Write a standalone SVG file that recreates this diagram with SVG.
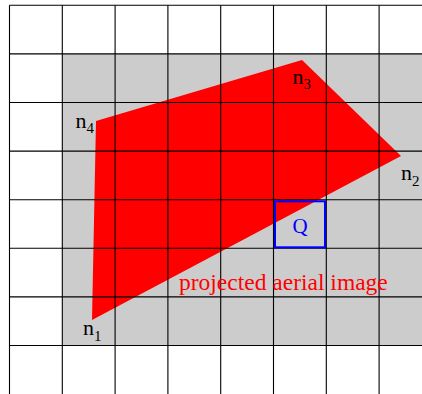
<svg xmlns="http://www.w3.org/2000/svg" width="422" height="394" viewBox="0 0 422 394">
<style>
.grid line{stroke:#000;stroke-width:1.1}
.lbl{font-family:"Liberation Serif",serif;font-size:22px;fill:#000}
.sub{font-size:15px}
</style>
<rect width="422" height="394" fill="#fff"/>
<rect id="region" x="62.3" y="53.9" width="360" height="291.6" fill="#cccccc"/>
<polygon id="image" points="92,320 401,156 302,60 96,121" fill="#ff0000"/>
<g class="grid">
<line x1="9.5" y1="5.3" x2="9.5" y2="394"/>
<line x1="62.3" y1="5.3" x2="62.3" y2="394"/>
<line x1="115.1" y1="5.3" x2="115.1" y2="394"/>
<line x1="167.9" y1="5.3" x2="167.9" y2="394"/>
<line x1="220.7" y1="5.3" x2="220.7" y2="394"/>
<line x1="273.5" y1="5.3" x2="273.5" y2="394"/>
<line x1="326.3" y1="5.3" x2="326.3" y2="394"/>
<line x1="379.1" y1="5.3" x2="379.1" y2="394"/>
<line x1="9.5" y1="5.3" x2="422" y2="5.3"/>
<line x1="9.5" y1="53.9" x2="422" y2="53.9"/>
<line x1="9.5" y1="102.5" x2="422" y2="102.5"/>
<line x1="9.5" y1="151.1" x2="422" y2="151.1"/>
<line x1="9.5" y1="199.7" x2="422" y2="199.7"/>
<line x1="9.5" y1="248.3" x2="422" y2="248.3"/>
<line x1="9.5" y1="296.9" x2="422" y2="296.9"/>
<line x1="9.5" y1="345.5" x2="422" y2="345.5"/>
</g>
<g id="Q">
<rect x="275" y="201.3" width="50" height="46" fill="none" stroke="#0000ff" stroke-width="2"/>
<text x="300" y="233" text-anchor="middle" font-family="'Liberation Serif',serif" font-size="21" fill="#0000ff">Q</text>
</g>
<text id="caption" x="179" y="289.5" font-family="'Liberation Serif',serif" font-size="23.5" fill="#ff0000">projected aerial image</text>
<g id="n1"><text class="lbl" x="83" y="335">n<tspan class="sub" dy="6">1</tspan></text></g>
<g id="n2"><text class="lbl" x="401" y="179.5">n<tspan class="sub" dy="6">2</tspan></text></g>
<g id="n3"><text class="lbl" x="292.5" y="83.5">n<tspan class="sub" dy="5">3</tspan></text></g>
<g id="n4"><text class="lbl" x="75.5" y="128">n<tspan class="sub" dy="5">4</tspan></text></g>
</svg>
